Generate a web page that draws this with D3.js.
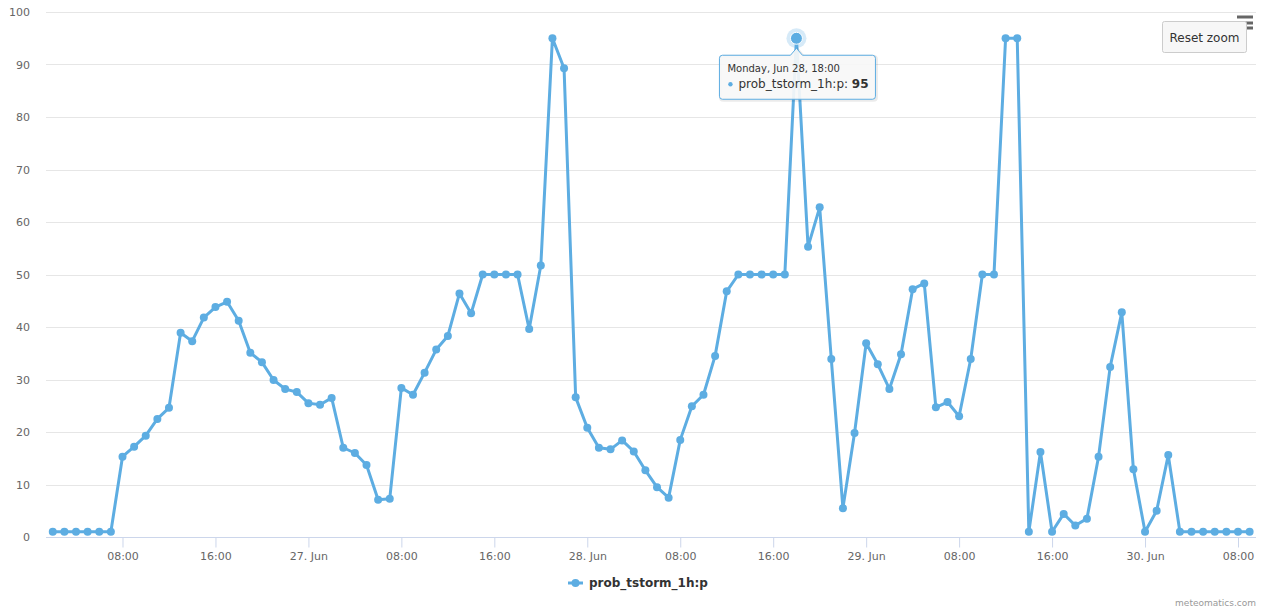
<!DOCTYPE html>
<html>
<head>
<meta charset="utf-8">
<script src="https://cdn.jsdelivr.net/npm/d3@7"></script>
<style>
  html, body { margin: 0; padding: 0; background: #fff; }
  svg { display: block; font-family: "DejaVu Sans", "Lucida Grande", Arial, sans-serif; }
</style>
</head>
<body>
<svg id="chart" width="1268" height="615"></svg>
<script>
// ---------- data ----------
const seriesName = "prob_tstorm_1h:p";
const startTime = "2021-06-26T02:00:00Z"; // first hourly sample
const values = [
  1, 1, 1, 1, 1, 1, 15.3, 17.2, 19.3, 22.5, 24.6, 38.9, 37.3, 41.8, 43.8, 44.8,
  41.2, 35.1, 33.3, 29.9, 28.2, 27.6, 25.5, 25.2, 26.5, 17.0, 16.0, 13.7, 7.1, 7.3,
  28.4, 27.1, 31.3, 35.7, 38.3, 46.4, 42.6, 50, 50, 50, 50, 39.6, 51.7, 95, 89.3,
  26.6, 20.8, 17.0, 16.7, 18.4, 16.3, 12.7, 9.5, 7.5, 18.5, 24.9, 27.1, 34.5, 46.8,
  50, 50, 50, 50, 50, 95, 55.3, 62.8, 33.9, 5.5, 19.8, 36.9, 32.9, 28.2, 34.8, 47.2,
  48.3, 24.7, 25.7, 23.0, 33.9, 50, 50, 95, 95, 1, 16.2, 1, 4.4, 2.2, 3.5, 15.3,
  32.4, 42.8, 12.9, 1, 5.0, 15.6, 1, 1, 1, 1, 1, 1, 1
];
const yTicks = [0, 10, 20, 30, 40, 50, 60, 70, 80, 90, 100];
const hoveredIndex = 64;
const tooltipDate = "Monday, Jun 28, 18:00";
const creditText = "meteomatics.com";
const resetLabel = "Reset zoom";

// ---------- setup ----------
const color = "#5dade2";
const svg = d3.select("#chart");
const plot = { left: 46, right: 1256, top: 12, bottom: 537 };

const t0 = new Date(startTime);
const times = values.map((v, i) => d3.utcHour.offset(t0, i));
const data = values.map((v, i) => ({ t: times[i], v }));

const x = d3.scaleUtc()
  .domain([d3.utcMinute.offset(times[0], -35), d3.utcMinute.offset(times[times.length - 1], 33)])
  .range([plot.left, plot.right]);
const y = d3.scaleLinear().domain([0, 100]).range([plot.bottom, plot.top]);

// grid lines
svg.append("g").selectAll("line").data(yTicks).join("line")
  .attr("x1", plot.left).attr("x2", plot.right)
  .attr("y1", d => Math.round(y(d)) + 0.5).attr("y2", d => Math.round(y(d)) + 0.5)
  .attr("stroke", "#e6e6e6").attr("stroke-width", 1);

// y labels
svg.append("g").selectAll("text").data(yTicks).join("text")
  .attr("x", 30).attr("y", d => y(d) + 4)
  .attr("text-anchor", "end").attr("font-size", 11).attr("fill", "#666")
  .text(d => d);

// x axis
const fmt = d => (d.getUTCHours() === 0 ? d3.utcFormat("%-d. %b")(d) : d3.utcFormat("%H:%M")(d));
const xTicks = x.ticks(d3.utcHour.every(8));
const xAxis = d3.axisBottom(x).tickValues(xTicks).tickFormat(fmt).tickSize(10).tickPadding(5);
const gx = svg.append("g").attr("transform", `translate(0,${plot.bottom + 0.5})`).call(xAxis);
gx.select(".domain").attr("stroke", "#ccd6eb").attr("d", `M${plot.left},0H${plot.right}`);
gx.selectAll(".tick line").attr("stroke", "#ccd6eb");
gx.selectAll(".tick text").attr("fill", "#666").attr("font-size", 11)
  .attr("font-family", "DejaVu Sans, Lucida Grande, Arial, sans-serif");

// line
const line = d3.line().x(d => x(d.t)).y(d => y(d.v));
svg.append("path").datum(data)
  .attr("d", line).attr("fill", "none").attr("stroke", color)
  .attr("stroke-width", 3).attr("stroke-linejoin", "round").attr("stroke-linecap", "round");

// markers
svg.append("g").selectAll("circle").data(data).join("circle")
  .attr("cx", d => x(d.t)).attr("cy", d => y(d.v)).attr("r", 4)
  .attr("fill", color);

// hover state
const hp = data[hoveredIndex];
svg.append("circle").attr("cx", x(hp.t)).attr("cy", y(hp.v)).attr("r", 10)
  .attr("fill", color).attr("fill-opacity", 0.25);
svg.append("circle").attr("cx", x(hp.t)).attr("cy", y(hp.v)).attr("r", 6)
  .attr("fill", color).attr("stroke", "#fff").attr("stroke-width", 1);

// tooltip
const hx = x(hp.t), hy = y(hp.v);
const tipW = 156, tipH = 44;
const tx = hx - 77, ty = hy + 17;
const tip = svg.append("g").attr("transform", `translate(${tx},${ty})`);
const tipPath = `M3,0 H${77 - 6} L77,-7 L${77 + 6},0 H${tipW - 3} Q${tipW},0 ${tipW},3 V${tipH - 3} Q${tipW},${tipH} ${tipW - 3},${tipH} H3 Q0,${tipH} 0,${tipH - 3} V3 Q0,0 3,0 Z`;
tip.append("path").attr("d", tipPath).attr("transform", "translate(1,1)")
  .attr("fill", "none").attr("stroke", "#000").attr("stroke-opacity", 0.08).attr("stroke-width", 3);
tip.append("path").attr("d", tipPath)
  .attr("fill", "#f7f7f7").attr("fill-opacity", 0.92).attr("stroke", color).attr("stroke-width", 1);
tip.append("text").attr("x", 8).attr("y", 17).attr("font-size", 10).attr("fill", "#333").text(tooltipDate);
tip.append("circle").attr("cx", 11).attr("cy", 29).attr("r", 2.2).attr("fill", color);
const l2 = tip.append("text").attr("x", 19).attr("y", 33).attr("font-size", 12).attr("fill", "#333");
l2.append("tspan").text(seriesName + ": ");
l2.append("tspan").attr("font-weight", "bold").text(hp.v);

// context menu icon
const menu = svg.append("g").attr("stroke", "#666").attr("stroke-width", 3);
[17, 23, 28].forEach(yy => menu.append("line").attr("x1", 1237).attr("x2", 1253).attr("y1", yy).attr("y2", yy));

// reset zoom button
svg.append("rect").attr("x", 1162.5).attr("y", 21.5).attr("width", 84).attr("height", 31).attr("rx", 2)
  .attr("fill", "#f7f7f7").attr("stroke", "#cccccc").attr("stroke-width", 1);
svg.append("text").attr("x", 1204.5).attr("y", 42).attr("text-anchor", "middle")
  .attr("font-size", 12).attr("fill", "#333").text(resetLabel);

// legend
const lg = svg.append("g");
lg.append("line").attr("x1", 568).attr("x2", 583).attr("y1", 583).attr("y2", 583)
  .attr("stroke", color).attr("stroke-width", 3);
lg.append("circle").attr("cx", 575.5).attr("cy", 583).attr("r", 4).attr("fill", color);
lg.append("text").attr("x", 589).attr("y", 587).attr("font-size", 12).attr("font-weight", "bold")
  .attr("fill", "#333").text(seriesName);

// credits
svg.append("text").attr("x", 1256).attr("y", 606).attr("text-anchor", "end")
  .attr("font-size", 9).attr("fill", "#999").text(creditText);
</script>
</body>
</html>
